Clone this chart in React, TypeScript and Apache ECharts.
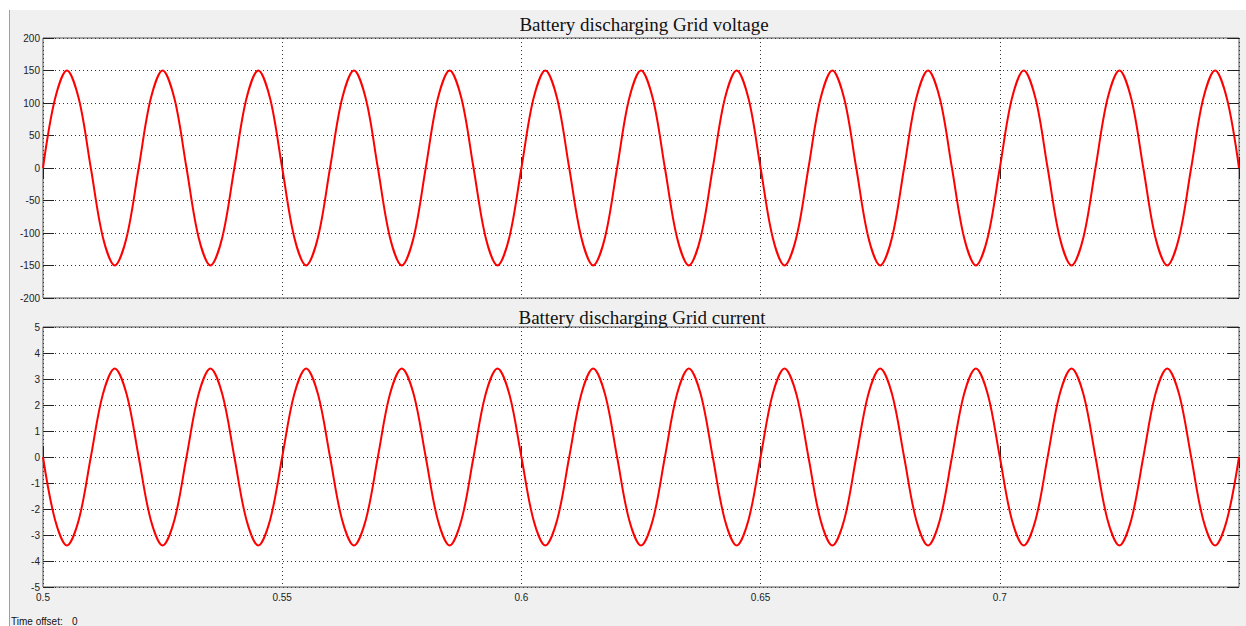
import { useEffect, useRef } from "react";
import * as echarts from "echarts";

// Sample grid: one sample every 1/8 of a 50 Hz cycle (0.0025 s), starting at t = 0.5 s
const T_START = 0.5;
const T_STEP = 0.0025;

// Grid voltage (V)
const voltage = [
  0, 106, 150, 106, 0, -106, -150, -106,
  0, 106, 150, 106, 0, -106, -150, -106,
  0, 106, 150, 106, 0, -106, -150, -106,
  0, 106, 150, 106, 0, -106, -150, -106,
  0, 106, 150, 106, 0, -106, -150, -106,
  0, 106, 150, 106, 0, -106, -150, -106,
  0, 106, 150, 106, 0, -106, -150, -106,
  0, 106, 150, 106, 0, -106, -150, -106,
  0, 106, 150, 106, 0, -106, -150, -106,
  0, 106, 150, 106, 0, -106, -150, -106,
  0, 106, 150, 106, 0, -106, -150, -106,
  0, 106, 150, 106, 0, -106, -150, -106,
  0, 106, 150, 106, 0,
];

// Grid current (A)
const current = [
  0, -2.4, -3.4, -2.4, 0, 2.4, 3.4, 2.4,
  0, -2.4, -3.4, -2.4, 0, 2.4, 3.4, 2.4,
  0, -2.4, -3.4, -2.4, 0, 2.4, 3.4, 2.4,
  0, -2.4, -3.4, -2.4, 0, 2.4, 3.4, 2.4,
  0, -2.4, -3.4, -2.4, 0, 2.4, 3.4, 2.4,
  0, -2.4, -3.4, -2.4, 0, 2.4, 3.4, 2.4,
  0, -2.4, -3.4, -2.4, 0, 2.4, 3.4, 2.4,
  0, -2.4, -3.4, -2.4, 0, 2.4, 3.4, 2.4,
  0, -2.4, -3.4, -2.4, 0, 2.4, 3.4, 2.4,
  0, -2.4, -3.4, -2.4, 0, 2.4, 3.4, 2.4,
  0, -2.4, -3.4, -2.4, 0, 2.4, 3.4, 2.4,
  0, -2.4, -3.4, -2.4, 0, 2.4, 3.4, 2.4,
  0, -2.4, -3.4, -2.4, 0,
];

const X_RANGE = [0.5, 0.75];
const X_INTERVAL = 0.05;
const V_RANGE = [-200, 200];
const V_INTERVAL = 50;
const I_RANGE = [-5, 5];
const I_INTERVAL = 1;

const titles = ["Battery discharging Grid voltage", "Battery discharging Grid current"];

const LABEL_FONT = "Arial, 'Liberation Sans', sans-serif";
const TITLE_FONT = "'Times New Roman', 'Liberation Serif', serif";

export default function App() {
  const ref = useRef<HTMLDivElement>(null);

  useEffect(() => {
    if (!ref.current) return;
    const chart = echarts.init(ref.current, undefined, { renderer: "svg" });

    const toPairs = (arr: number[]) => arr.map((v, i) => [T_START + i * T_STEP, v]);

    const gridBox = [
      { left: 43, top: 38, width: 1196, height: 260 },
      { left: 43, top: 327, width: 1196, height: 260 },
    ];

    const tick = { show: true, inside: true, length: 11, lineStyle: { color: "#222", width: 1 } };
    const dotted = { show: true, lineStyle: { color: "#333", width: 1, type: [1, 3] as any } };

    const xAxes: any[] = [];
    const yAxes: any[] = [];
    [0, 1].forEach((g) => {
      xAxes.push({
        type: "value",
        gridIndex: g,
        position: "bottom",
        min: X_RANGE[0],
        max: X_RANGE[1],
        interval: X_INTERVAL,
        axisLine: { show: false },
        axisTick: tick,
        splitLine: dotted,
        axisLabel: {
          show: g === 1,
          showMaxLabel: false,
          color: "#222",
          fontSize: 10,
          fontFamily: LABEL_FONT,
          margin: 5,
          formatter: (v: number) => String(+v.toFixed(2)),
        },
      });
      xAxes.push({
        type: "value",
        gridIndex: g,
        position: "top",
        min: X_RANGE[0],
        max: X_RANGE[1],
        interval: X_INTERVAL,
        axisLine: { show: false },
        axisTick: tick,
        splitLine: { show: false },
        axisLabel: { show: false },
      });
      const range = g === 0 ? V_RANGE : I_RANGE;
      const interval = g === 0 ? V_INTERVAL : I_INTERVAL;
      yAxes.push({
        type: "value",
        gridIndex: g,
        position: "left",
        min: range[0],
        max: range[1],
        interval,
        axisLine: { show: false },
        axisTick: tick,
        splitLine: dotted,
        axisLabel: {
          color: "#222",
          fontSize: 10,
          fontFamily: LABEL_FONT,
          margin: 3,
        },
      });
      yAxes.push({
        type: "value",
        gridIndex: g,
        position: "right",
        min: range[0],
        max: range[1],
        interval,
        axisLine: { show: false },
        axisTick: tick,
        splitLine: { show: false },
        axisLabel: { show: false },
      });
    });

    chart.setOption({
      animation: false,
      grid: gridBox.map((b) => ({
        ...b,
        show: true,
        backgroundColor: "#ffffff",
        borderColor: "#555",
        borderWidth: 1,
        containLabel: false,
      })),
      xAxis: xAxes,
      yAxis: yAxes,
      graphic: [
        {
          type: "text",
          x: 644,
          y: 24,
          style: {
            text: titles[0],
            font: `19px ${TITLE_FONT}`,
            fill: "#111",
            textAlign: "center",
            textVerticalAlign: "middle",
          },
        },
        {
          type: "text",
          x: 642,
          y: 317,
          style: {
            text: titles[1],
            font: `19px ${TITLE_FONT}`,
            fill: "#111",
            textAlign: "center",
            textVerticalAlign: "middle",
          },
        },
        {
          type: "text",
          x: 11,
          y: 621,
          style: {
            text: "Time offset:",
            font: `10px ${LABEL_FONT}`,
            fill: "#111",
            textVerticalAlign: "middle",
          },
        },
        {
          type: "text",
          x: 72,
          y: 621,
          style: {
            text: "0",
            font: `10px ${LABEL_FONT}`,
            fill: "#111",
            textVerticalAlign: "middle",
          },
        },
      ],
      series: [
        {
          type: "line",
          xAxisIndex: 0,
          yAxisIndex: 0,
          data: toPairs(voltage),
          showSymbol: false,
          smooth: 0.33,
          lineStyle: { color: "#ff0000", width: 2 },
          clip: true,
        },
        {
          type: "line",
          xAxisIndex: 2,
          yAxisIndex: 2,
          data: toPairs(current),
          showSymbol: false,
          smooth: 0.33,
          lineStyle: { color: "#ff0000", width: 2 },
          clip: true,
        },
      ],
    });

    return () => chart.dispose();
  }, []);

  return (
    <div style={{ position: "fixed", left: 0, top: 0, width: 1246, height: 626, background: "#ffffff" }}>
      <div
        style={{
          position: "absolute",
          left: 9,
          top: 10,
          width: 1237,
          height: 616,
          background: "#f0f0f0",
          borderLeft: "1px solid #a0a0a0",
          boxSizing: "border-box",
        }}
      />
      <div ref={ref} style={{ position: "absolute", left: 0, top: 0, width: 1246, height: 626 }} />
    </div>
  );
}
